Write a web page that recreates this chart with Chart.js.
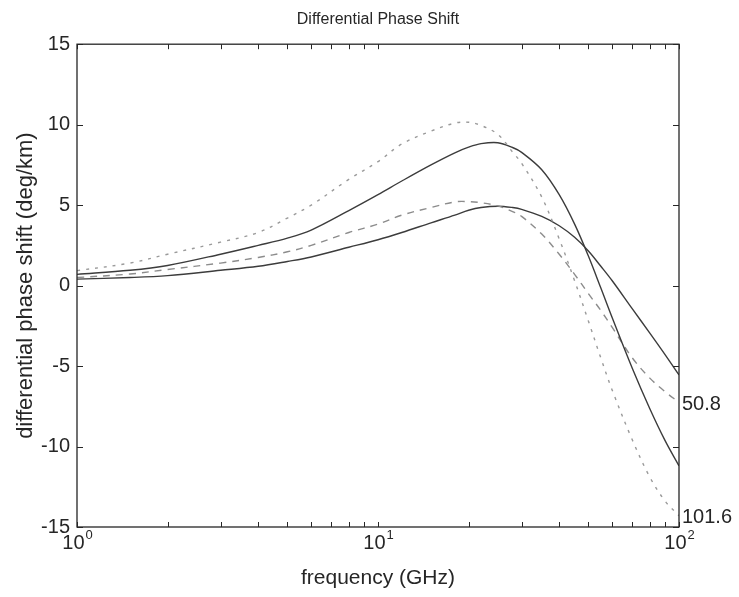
<!DOCTYPE html>
<html>
<head>
<meta charset="utf-8">
<script src="https://cdn.jsdelivr.net/npm/chart.js@4/dist/chart.umd.min.js"></script>
<style>
  html, body { margin: 0; padding: 0; background: #fff; }
  #wrap { width: 739px; height: 597px; position: relative; }
</style>
</head>
<body>
<div id="wrap"><canvas id="chart"></canvas></div>
<script>
// ── Data ─────────────────────────────────────────────
const freqGHz = [1, 1.5, 2, 3, 4, 5, 6, 8, 10, 12, 15, 18, 20, 22, 25, 28, 30, 35, 40, 45, 50, 55, 60, 70, 80, 90, 100];

// 101.6 pair (larger peaks)
const shift101Dotted = [0.93, 1.4, 1.95, 2.7, 3.3, 4.2, 5.0, 6.6, 7.7, 8.8, 9.6, 10.1, 10.15, 9.95, 9.4, 8.3, 7.6, 5.5, 2.9, 0.3, -2.2, -4.5, -6.5, -9.6, -11.9, -13.4, -14.3];
const shift101Solid  = [0.7, 0.95, 1.25, 1.95, 2.5, 2.95, 3.45, 4.66, 5.65, 6.5, 7.5, 8.25, 8.6, 8.82, 8.88, 8.58, 8.28, 7.2, 5.65, 3.82, 1.84, -0.15, -2.0, -5.15, -7.65, -9.65, -11.2];

// 50.8 pair (smaller peaks)
const shift50Dashed  = [0.5, 0.72, 1.0, 1.4, 1.75, 2.1, 2.5, 3.3, 3.82, 4.38, 4.85, 5.2, 5.22, 5.15, 4.95, 4.6, 4.3, 3.2, 1.95, 0.7, -0.5, -1.55, -2.6, -4.5, -5.75, -6.6, -7.25];
const shift50Solid   = [0.4, 0.5, 0.62, 0.95, 1.2, 1.5, 1.78, 2.38, 2.85, 3.3, 3.9, 4.38, 4.68, 4.85, 4.93, 4.85, 4.74, 4.3, 3.72, 3.0, 2.15, 1.2, 0.3, -1.45, -2.95, -4.3, -5.55];

const curveLabels   = ['50.8', '101.6'];
const xMajorTicks   = [1, 10, 100];
const xMajorExp     = ['0', '1', '2'];
const xMinorTicks   = [2, 3, 4, 5, 6, 7, 8, 9, 20, 30, 40, 50, 60, 70, 80, 90];
const yMin = -15, yMax = 15, yStep = 5;

const FONT = "'Liberation Sans', Arial, Helvetica, sans-serif";
const INK  = '#262626';

const toPoints = arr => arr.map((v, i) => ({ x: freqGHz[i], y: v }));

// ── MATLAB style box, inward ticks, 10^n labels, end labels ──
const framePlugin = {
  id: 'frame',
  afterDatasetsDraw(chart) {
    const { ctx, chartArea: a, scales: { x, y } } = chart;
    ctx.save();
    ctx.strokeStyle = INK;
    ctx.lineWidth = 1.3;
    ctx.strokeRect(a.left, a.top, a.right - a.left, a.bottom - a.top);

    ctx.beginPath();
    y.ticks.forEach(t => {
      const py = Math.round(y.getPixelForValue(t.value)) + 0.5;
      ctx.moveTo(a.left, py);  ctx.lineTo(a.left + 6, py);
      ctx.moveTo(a.right, py); ctx.lineTo(a.right - 6, py);
    });
    xMinorTicks.concat(xMajorTicks).forEach(v => {
      const px = Math.round(x.getPixelForValue(v)) + 0.5;
      ctx.moveTo(px, a.bottom); ctx.lineTo(px, a.bottom - 5);
      ctx.moveTo(px, a.top);    ctx.lineTo(px, a.top + 5);
    });
    ctx.lineWidth = 1;
    ctx.stroke();

    // x tick labels: 10 with superscript exponent
    ctx.fillStyle = INK;
    ctx.textBaseline = 'alphabetic';
    ctx.textAlign = 'left';
    xMajorTicks.forEach((v, i) => {
      const px = x.getPixelForValue(v);
      ctx.font = `20px ${FONT}`;
      const wBase = ctx.measureText('10').width;
      ctx.font = `13px ${FONT}`;
      const wExp = ctx.measureText(xMajorExp[i]).width;
      const start = px - (wBase + wExp) / 2;
      ctx.font = `20px ${FONT}`;
      ctx.fillText('10', start, a.bottom + 22);
      ctx.font = `13px ${FONT}`;
      ctx.fillText(xMajorExp[i], start + wBase + 1, a.bottom + 12);
    });

    // curve family labels at the right edge
    ctx.font = `20px ${FONT}`;
    ctx.textBaseline = 'middle';
    const ends = [shift50Dashed[shift50Dashed.length - 1], shift101Dotted[shift101Dotted.length - 1]];
    curveLabels.forEach((lbl, i) => {
      ctx.fillText(lbl, a.right + 3, y.getPixelForValue(ends[i]) + 2);
    });
    ctx.restore();
  }
};

const lineBase = { pointRadius: 0, fill: false, tension: 0.35 };

new Chart(document.getElementById('chart'), {
  type: 'line',
  data: {
    datasets: [
      { ...lineBase, label: '101.6 dotted', data: toPoints(shift101Dotted), borderColor: '#9a9a9a', borderWidth: 1.4, borderDash: [3, 6] },
      { ...lineBase, label: '101.6 solid',  data: toPoints(shift101Solid),  borderColor: '#3c3c3c', borderWidth: 1.4 },
      { ...lineBase, label: '50.8 dashed',  data: toPoints(shift50Dashed),  borderColor: '#8c8c8c', borderWidth: 1.4, borderDash: [7, 6] },
      { ...lineBase, label: '50.8 solid',   data: toPoints(shift50Solid),   borderColor: '#3c3c3c', borderWidth: 1.4 },
    ]
  },
  options: {
    responsive: true,
    maintainAspectRatio: false,
    animation: false,
    layout: { padding: { left: 0, right: 60, top: 0, bottom: 0 } },
    plugins: {
      legend: { display: false },
      tooltip: { enabled: false },
      title: {
        display: true,
        fullSize: false,
        text: 'Differential Phase Shift',
        color: INK,
        font: { family: FONT, size: 16, weight: 'normal' },
        padding: { top: 10, bottom: 15 },
      },
    },
    scales: {
      x: {
        type: 'logarithmic',
        min: 1, max: 100,
        grid: { display: false, drawTicks: false },
        border: { display: false },
        ticks: { display: false },
        title: {
          display: true,
          text: 'frequency (GHz)',
          color: INK,
          font: { family: FONT, size: 21 },
          padding: { top: 0, bottom: 6 },
        },
        afterFit: s => { s.height = 70; },
      },
      y: {
        min: yMin, max: yMax,
        grid: { display: false, drawTicks: false },
        border: { display: false },
        ticks: {
          stepSize: yStep,
          color: INK,
          padding: 7,
          font: { family: FONT, size: 20 },
        },
        title: {
          display: true,
          text: 'differential phase shift (deg/km)',
          color: INK,
          font: { family: FONT, size: 22 },
          padding: { top: 13, bottom: 0 },
        },
        afterFit: s => { s.width = 77; },
      }
    }
  },
  plugins: [framePlugin]
});
</script>
</body>
</html>
